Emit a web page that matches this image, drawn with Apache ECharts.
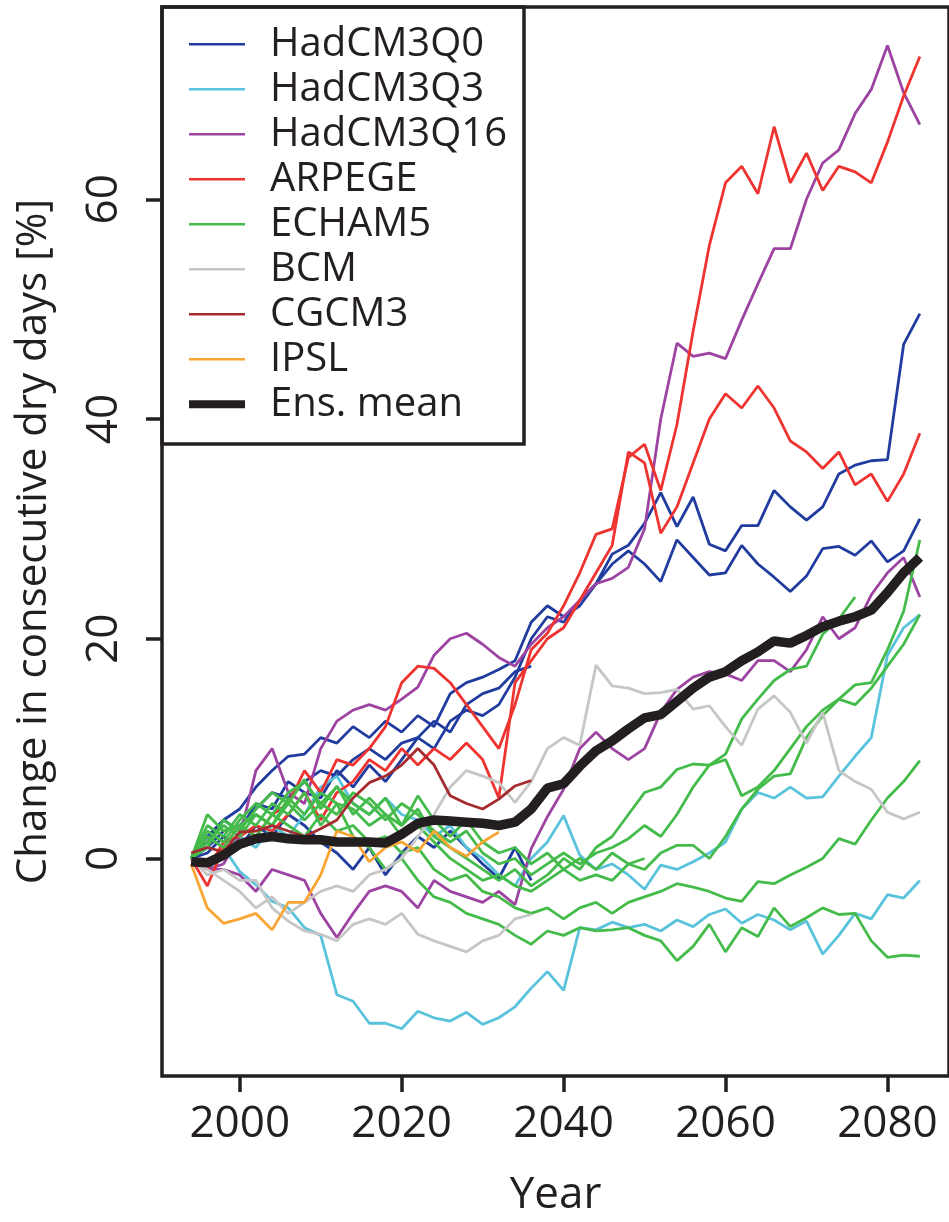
<!DOCTYPE html>
<html><head><meta charset="utf-8">
<script src="https://cdn.jsdelivr.net/npm/echarts@6/dist/echarts.min.js"></script>
<style>html,body{margin:0;padding:0;background:#fff}#c{width:949px;height:1222px}</style>
</head><body><div id="c"></div>
<script>
// ---------------- data ----------------
const YEARS = [1994,1996,1998,2000,2002,2004,2006,2008,2010,2012,2014,2016,2018,2020,2022,2024,2026,2028,2030,2032,2034,2036,2038,2040,2042,2044,2046,2048,2050,2052,2054,2056,2058,2060,2062,2064,2066,2068,2070,2072,2074,2076,2078,2080,2082,2084];
const X_TICKS = [2000, 2020, 2040, 2060, 2080];
const Y_TICKS = [0, 20, 40, 60];
const LEGEND_NAMES = ['HadCM3Q0','HadCM3Q3','HadCM3Q16','ARPEGE','ECHAM5','BCM','CGCM3','IPSL','Ens. mean'];

const HadCM3Q0_a = [0,1.5,3.5,4.5,6.5,8,9.3,9.5,11,10.5,12,11,12.5,11.5,13,12,15,16,16.5,17.2,18,21.5,23,22,23,25,27.7,28.5,30.5,33.3,30.2,32.9,28.6,28,30.3,30.3,33.5,32,30.8,32,35,35.8,36.2,36.3,46.8,49.6];
const HadCM3Q0_b = [0,1,2.5,3,4.5,6,5.5,7,8,7.5,9,10,9,10.5,11,10,12.5,13.5,13,14,16.5,20,22,21.5,23.5,25,26.8,28,26.8,25.2,29,27.4,25.8,26,28.5,26.8,25.6,24.3,25.7,28.2,28.4,27.6,28.9,27,28,30.9];
const HadCM3Q0_c = [0,0.5,2,1,3,2,4,3,1.5,0.5,-1,1,-1.5,0.5,2,1,2.5,1,-0.5,-1.8,1,-2];
const HadCM3Q0_d = [0,2,3.5,2.5,5,4.5,7,6,5.5,8,6.5,8.5,7,9,11,12.5,11.5,14,15,15.5,17,17.5];
const HadCM3Q3_a = [0,-0.5,1,-1.2,-2.4,-3.9,-4.5,-6.3,-7,-12.4,-13,-15,-15,-15.5,-13.9,-14.5,-14.8,-14,-15.1,-14.5,-13.5,-11.8,-10.3,-12,-6.3,-6.5,-5.8,-6.3,-6.0,-6.6,-5.6,-6.2,-5.1,-4.6,-5.9,-5.1,-5.6,-6.5,-5.7,-8.7,-7,-5,-5.5,-3.3,-3.6,-2.0];
const HadCM3Q3_b = [0,-1,0.5,2,1,3,2,4,6.5,7.5,5,4,5.5,4,3.5,2,3,1,0,-1.5,-2.5,0,1.5,3.9,0.3,-1,-0.5,-1.5,-2.8,-0.6,-1,-0.3,0.5,1.5,4.5,6,5.5,6.5,5.5,5.6,7.5,9.3,11,18.5,21,22.2];
const HadCM3Q16_a = [0,-1,-0.5,2,8,10,6,5,10,12.5,13.5,14,13.5,14.5,15.6,18.5,20,20.5,19.5,18.3,17.5,19.5,21,22,23.5,25,25.5,26.5,30,40,46.9,45.7,46,45.5,49,52.3,55.5,55.5,60,63.3,64.5,67.8,70,74,69.7,66.8];
const HadCM3Q16_b = [0,-1,-1,-1.5,-3,-1,-1.5,-2,-5,-7.2,-5,-3,-2.5,-3,-4.5,-2,-3,-3.5,-4,-3,-4.2,0.9,3.8,6.3,10,11.5,10,9,10,13.3,15.4,16.5,17,16.8,16.2,18,18,17,19,22,20,21,24,26,27.4,23.8];
const ARPEGE_a = [0,-2.5,1,3,2,4,5,8,6,9,8.5,10,12,16,17.5,17.3,16,14,12,10,14,19,20.5,23,26,29.5,30,36.5,37.7,33.5,39.5,48,55.8,61.5,63,60.5,66.6,61.5,64.2,60.8,63,62.5,61.5,65.2,69.4,73];
const ARPEGE_b = [0,-1,1.5,2,3,2.5,4,6,3.5,6,7,9,8,10,8.5,10,9,10.5,9,5.5,16,18,20,21,23.5,26,28.5,37,36,29.6,32,36,40,42.3,41,43,41,38,37,35.5,37,34,35,32.5,35,38.7];
const ECHAM5_a = [0,3,2,4,3,5,4,6,3,5,2,1,-1,0,-2,-3.5,-4,-5,-5.5,-6,-7,-7.8,-6.6,-7,-6.3,-6.6,-6.5,-6.3,-7,-7.5,-9.3,-8,-6,-8.5,-6.3,-7.1,-4.5,-6.2,-5.4,-4.5,-5.1,-5,-7.5,-9,-8.8,-8.9];
const ECHAM5_b = [0,2,1,3,2,4,3,2,4,2.5,3,1.5,2,0.5,1,-1,-2,-1.5,-3,-3.5,-4.5,-5,-4.5,-5.5,-4.5,-4,-5,-4,-3.5,-3,-2.3,-2.6,-3,-3.6,-3.9,-2.1,-2.3,-1.5,-0.8,0,1.8,1.3,3.5,5.5,7,8.9];
const ECHAM5_c = [0,1.5,3,2,4,3,5.5,4,6,5,4.5,3,4,2,3,1.5,0,-1,-2,-1.5,-2.5,-3,-2,-1,-2,-1.5,-2,-0.5,-1,0.5,1.2,1.2,0,2,4.5,6.3,7.5,7.7,11,13,14.5,15.8,16,19,22.5,29];
const ECHAM5_d = [0,2.5,1.5,3.5,5,4,6,7,5,6.5,5,4,5.5,3,4.5,2,1,0,-1,-2,-1,-2.5,-1.5,0,-1,1,2,4,6,6.5,8.1,8.6,8.5,9,5.7,6.5,8,10,12,13.5,14.5,14,15.5,17.5,19.5,22.2];
const ECHAM5_e = [0,1,3.5,2.5,4.5,6,5,3.5,5,4,6,5,3.5,5,4,2.5,1.5,2.5,0.5,-0.5,0,-1.5,-0.5,0.5,-0.5,0.5,1,1.8,3,2,4,6.5,8.5,9.5,12.7,14.5,16.2,17.2,17.5,20.4,21.8,23.8];
const ECHAM5_f = [0,4,2.5,3,4,3,5,7.2,4.5,6.6,4,5.5,4,3,5.7,3.5,2,3.5,1.5,0.5,1,-0.5,0.5,-1,0,-1,0.5,-0.5,0];
const BCM_a = [0,-1,-2,-3,-4.5,-3.5,-5,-4,-3,-2.5,-3,-1.5,-1,0,2,4,6.5,8,7.5,6.9,5.1,7,10,11,10.3,17.6,15.7,15.5,15,15.1,15.4,13.6,13.9,12,10.3,13.6,14.8,13.3,10.5,13.3,8,7,6.3,4.2,3.6,4.2];
const BCM_b = [0,-1.5,-1,-2,-2,-4.5,-5.7,-6.6,-6.9,-7.5,-6,-5.5,-6,-5,-6.9,-7.5,-8,-8.5,-7.5,-7,-5.5,-5.1];
const CGCM3_a = [0.5,1,0.6,2.4,2.5,3,2.5,2,2.7,3.5,5.5,6.9,7.5,8.5,10,8.5,5.7,5,4.5,5.4,6.6,7.1];
const IPSL_a = [-0.5,-4.5,-5.9,-5.5,-5,-6.5,-4,-4,-1.5,2.5,2,-0.3,1,1.5,0.6,2.5,1,0.2,1.5,2.4];
const ENS_MEAN = [-0.3,-0.4,0.3,1.3,1.8,2.0,1.8,1.7,1.7,1.5,1.5,1.5,1.4,2.2,3.2,3.5,3.4,3.3,3.2,3.0,3.3,4.5,6.4,6.8,8.4,9.8,10.7,11.8,12.8,13.1,14.3,15.5,16.5,17.0,18.0,18.8,19.8,19.6,20.3,21.1,21.6,22.0,22.6,24.2,26.0,27.4];

// ---------------- styling ----------------
const INK = '#231f20';
const FONT = '"Open Sans", "Noto Sans", sans-serif';
const RUNS = [
  ['HadCM3Q0', '#213c9f', [HadCM3Q0_a, HadCM3Q0_b, HadCM3Q0_c, HadCM3Q0_d]],
  ['HadCM3Q3', '#5ac3dc', [HadCM3Q3_a, HadCM3Q3_b]],
  ['HadCM3Q16', '#9d44a3', [HadCM3Q16_a, HadCM3Q16_b]],
  ['ARPEGE', '#ee3430', [ARPEGE_a, ARPEGE_b]],
  ['ECHAM5', '#44bb4a', [ECHAM5_a, ECHAM5_b, ECHAM5_c, ECHAM5_d, ECHAM5_e, ECHAM5_f]],
  ['BCM', '#c6c6c6', [BCM_a, BCM_b]],
  ['CGCM3', '#a52b2e', [CGCM3_a]],
  ['IPSL', '#f8a534', [IPSL_a]]
];

function pairs(vals) {
  const out = [];
  for (let i = 0; i < vals.length; i++) if (vals[i] !== null && vals[i] !== undefined) out.push([YEARS[i], vals[i]]);
  return out;
}

const series = [];
RUNS.forEach(([name, color, list]) => {
  list.forEach(vals => {
    series.push({
      type: 'line', name: name, data: pairs(vals), symbol: 'none', showSymbol: false, silent: true,
      lineStyle: { color: color, width: 2.8 }, itemStyle: { color: color }, z: 2
    });
  });
});
series.push({
  type: 'line', name: 'Ens. mean', data: pairs(ENS_MEAN), symbol: 'none', showSymbol: false, silent: true,
  lineStyle: { color: INK, width: 9.5 }, itemStyle: { color: INK }, z: 3
});

const legendData = LEGEND_NAMES.map(n => ({
  name: n,
  icon: n === 'Ens. mean' ? 'path://M0 0H62V9H0Z' : 'path://M0 0H56V2.4H0Z'
}));

const chart = echarts.init(document.getElementById('c'), null, { renderer: 'canvas' });
chart.setOption({
  animation: false,
  backgroundColor: '#ffffff',
  grid: { left: 162, top: 7, width: 790, height: 1075, show: true, borderColor: INK, borderWidth: 3.5, backgroundColor: 'transparent' },
  xAxis: {
    type: 'value', min: 1990.4, max: 2087.6,
    splitLine: { show: false }, axisLine: { show: false, onZero: false },
    axisTick: { show: true, customValues: X_TICKS, length: 16, lineStyle: { color: INK, width: 3.5 } },
    axisLabel: { customValues: X_TICKS, fontSize: 44, fontFamily: FONT, color: INK, margin: 26, formatter: v => String(v) },
    name: 'Year', nameLocation: 'middle', nameGap: 97,
    nameTextStyle: { fontSize: 44, fontFamily: FONT, color: INK }
  },
  yAxis: {
    type: 'value', min: -19.8, max: 77.5,
    splitLine: { show: false }, axisLine: { show: false, onZero: false },
    axisTick: { show: true, customValues: Y_TICKS, length: 16, lineStyle: { color: INK, width: 3.5 } },
    axisLabel: { customValues: Y_TICKS, rotate: 90, fontSize: 44, fontFamily: FONT, color: INK, margin: 36, formatter: v => String(v) },
    name: 'Change in consecutive dry days [%]', nameLocation: 'middle', nameGap: 107, nameRotate: 90,
    nameTextStyle: { fontSize: 42, fontFamily: FONT, color: INK }
  },
  legend: {
    data: legendData, orient: 'vertical', left: 189, top: 21.8,
    itemWidth: 56, itemHeight: 12, itemGap: 0, selectedMode: false, padding: 0,
    textStyle: { fontSize: 40, lineHeight: 45, fontFamily: FONT, color: INK, padding: [0, 0, 0, 20] }
  },
  graphic: [{
    type: 'rect', shape: { x: 162, y: 7, width: 362, height: 437 }, z: 100,
    style: { fill: 'none', stroke: INK, lineWidth: 3.5 }
  }],
  series: series
});
</script></body></html>
